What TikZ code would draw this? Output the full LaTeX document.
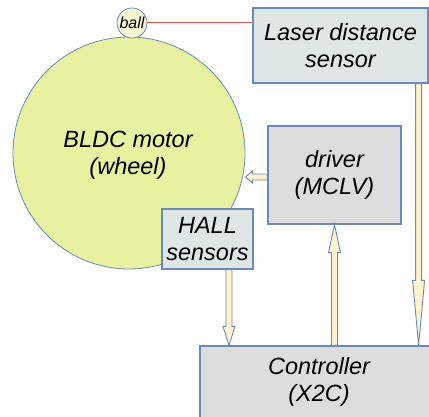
\documentclass[tikz,border=0pt]{standalone}
\usepackage{fontspec}
\setmainfont{Liberation Sans}
\usetikzlibrary{calc}
\definecolor{motorfill}{RGB}{231,241,160}
\definecolor{ballfill}{RGB}{244,246,208}
\definecolor{sensfill}{RGB}{222,230,230}
\definecolor{grayfill}{RGB}{221,221,221}
\definecolor{edgeblue}{RGB}{105,138,190}
\definecolor{arrowfill}{RGB}{255,243,204}
\definecolor{redline}{RGB}{232,80,80}
\tikzset{
  txt/.style={font=\fontsize{23.5}{26.5}\selectfont\itshape, align=center, text=black},
  boxsens/.style={txt, draw=edgeblue, fill=sensfill, line width=1.2pt, inner sep=0pt, rectangle},
  boxgray/.style={txt, draw=edgeblue, fill=grayfill, line width=1.2pt, inner sep=0pt, rectangle},
  barrow/.style={draw=edgeblue, fill=arrowfill, line width=0.9pt, line join=miter},
}
\newcommand\blockarrow[3]{%
  \coordinate (ba-s) at (#1);
  \coordinate (ba-e) at (#2);
  \coordinate (ba-h) at ($(ba-e)!#3!(ba-s)$);
  \draw[barrow] ($(ba-s)!3pt!90:(ba-e)$) -- ($(ba-h)!3pt!90:(ba-e)$) -- ($(ba-h)!6pt!90:(ba-e)$) -- (ba-e)
     -- ($(ba-h)!6pt!-90:(ba-e)$) -- ($(ba-h)!3pt!-90:(ba-e)$) -- ($(ba-s)!3pt!-90:(ba-e)$) -- cycle;}
\begin{document}
\begin{tikzpicture}[x=1pt,y=-1pt]
\clip (0,0) rectangle (429,417);
\fill[white] (0,0) rectangle (429,417);
% motor and ball
\node[circle, draw=edgeblue, fill=motorfill, line width=0.8pt, minimum size=232pt, inner sep=0pt] (motor) at (129,153) {};
\node[txt] (motortxt) at (128,155) {BLDC motor\\(wheel)};
\node[circle, draw=edgeblue, fill=ballfill, line width=0.8pt, minimum size=30pt, inner sep=0pt,
      font=\fontsize{16}{18}\selectfont\itshape] (ball) at (132,23) {ball};
% boxes
\node[boxsens, minimum width=175pt, minimum height=75pt] (laser) at (340.5,45.5) {Laser distance\\sensor};
\node[boxgray, minimum width=133pt, minimum height=98pt] (driver) at (334.5,175) {driver\\(MCLV)};
\node[boxsens, minimum width=91pt, minimum height=60pt] (hall) at (207.5,239) {HALL\\sensors};
\node[boxgray, minimum width=238pt, minimum height=72pt] (ctrl) at (319,382) {Controller\\(X2C)};
% red line ball -> laser
\draw[draw=redline, line width=1pt] (ball.east) -- (ball.east -| laser.west);
% block arrows
\coordinate (drvout) at ([yshift=-2pt]driver.west);
\coordinate (drvtip) at ([xshift=-22pt]drvout);
\blockarrow{drvout}{drvtip}{7pt}
\coordinate (hallout) at ([xshift=21.5pt]hall.south);
\coordinate (hallin) at (hallout |- ctrl.north);
\blockarrow{hallout}{hallin}{19pt}
\coordinate (ctrlout) at (ctrl.north -| driver.south);
\blockarrow{ctrlout}{driver.south}{28pt}
\coordinate (laserout) at ([xshift=-10pt]laser.south east);
\coordinate (laserin) at (laserout |- ctrl.north);
\blockarrow{laserout}{laserin}{65pt}
\end{tikzpicture}
\end{document}
